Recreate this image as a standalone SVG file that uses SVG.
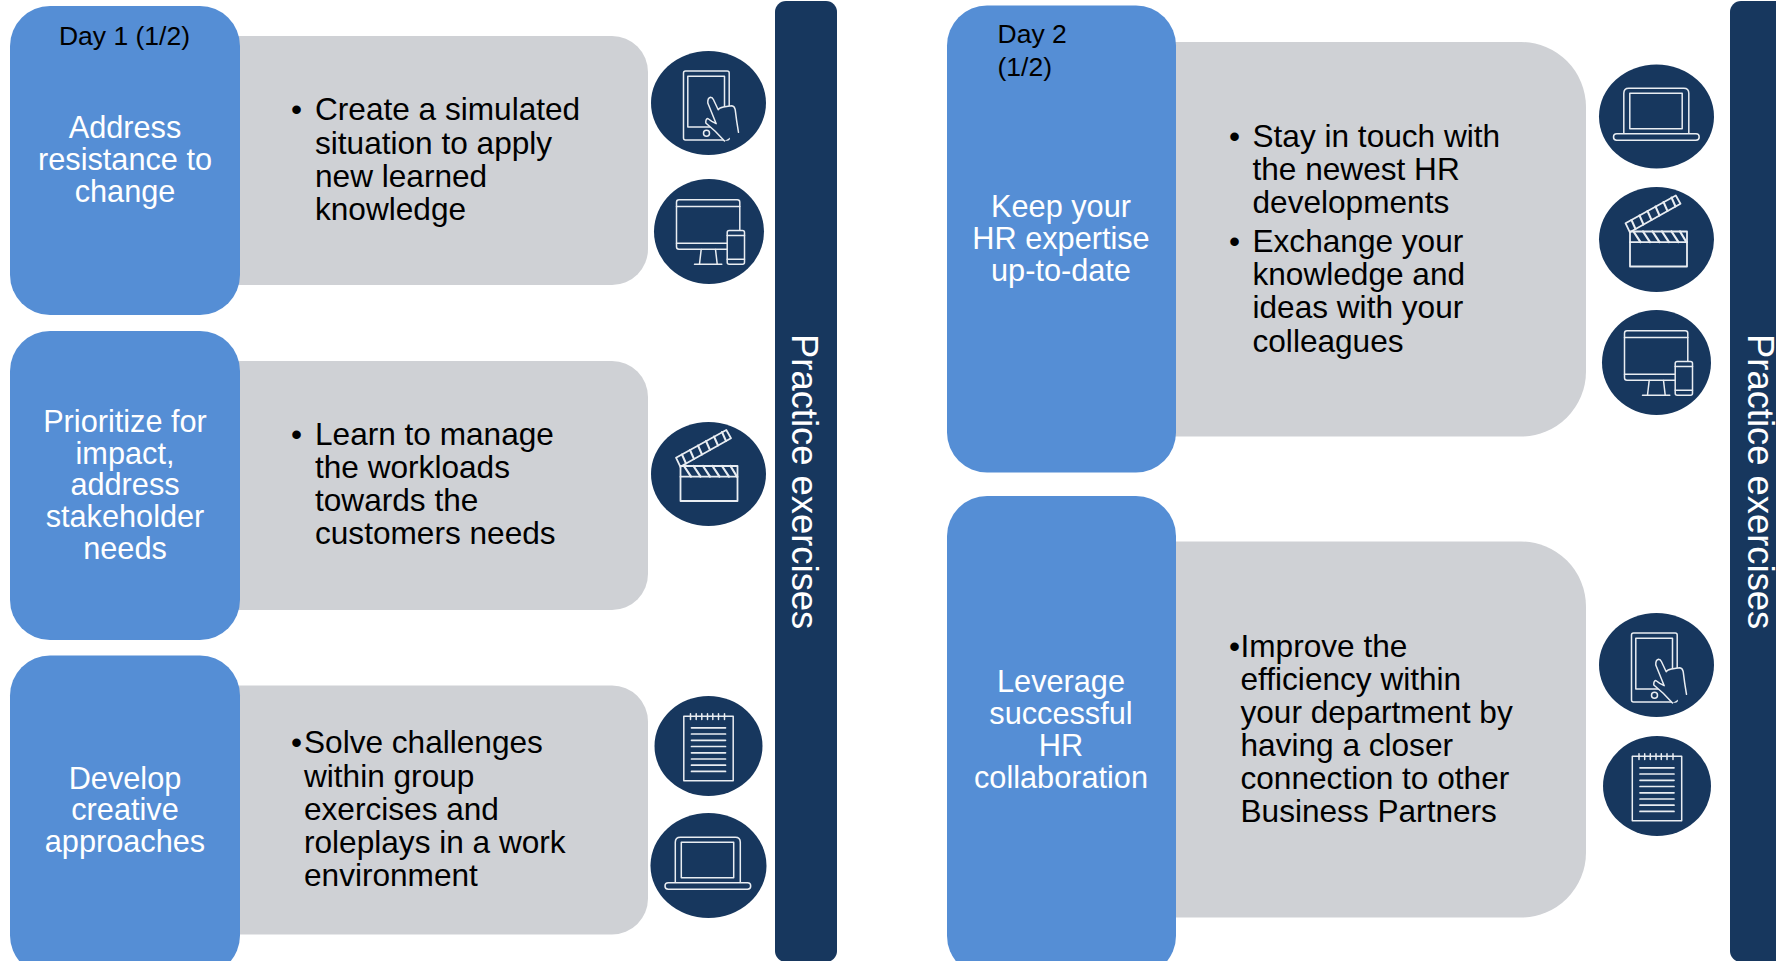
<svg xmlns="http://www.w3.org/2000/svg" width="1776" height="961" viewBox="0 0 1776 961">
<style>
text{font-family:"Liberation Sans",Arial,sans-serif}
.h{fill:#558ed5}.g{fill:#cfd1d5}.n{fill:#17375e}
.w{fill:#fff;font-size:30.7px;text-anchor:middle}
.d{fill:#000;font-size:26.5px}
.b{fill:#000;font-size:31.6px}
.p{fill:#fff;font-size:36.4px}
.i{fill:none;stroke:#e9edf2;stroke-width:1.5;stroke-linejoin:round;stroke-linecap:round}
</style>
<defs>
<g id="tablet" class="i">
<rect x="-25" y="-32" width="45.7" height="69" rx="2"/>
<rect x="-20.7" y="-26.7" width="36.7" height="50.7"/>
<circle cx="-2" cy="30.3" r="3"/>
<path fill="#17375e" d="M16 38L6.7 28.3L-2.7 20Q-3 16-.7 15.500L3.300 18.300L7.700 20.700L-.7 0Q-1-5 2-5.700Q4-5.500 5-3.300L9.700 6.700Q10.500 5 15 4Q20 3 23.300 2.700Q26 3 26.700 6.700Q28 18 30 29.300"/>
</g>
<g id="monitor" class="i">
<rect x="-32" y="-31.700" width="63.300" height="49.400" rx="2.500"/>
<path d="M-32-25H31.300M-32 11.700H31.300M-7.300 18L-9 32.500M7 18L8.700 32.500M-14 32.700H13.300"/>
<rect x="18.700" y="-1" width="17.300" height="33.700" rx="2" fill="#17375e"/>
<path d="M18.700 4H36M18.700 27.700H36"/>
</g>
<g id="clapper" class="i" stroke-width="1.800">
<rect x="-26.500" y="-8" width="57" height="35" stroke-width="1.800"/>
<path stroke-width="1.800" d="M-26.500 2.700H30.500"/>
<path stroke-width="2.200" d="M-23-8L-16 2.700M-13.500-8L-6.500 2.700M-4-8L3 2.700M5.500-8L12.500 2.700M15-8L22 2.700M23.500-8L30 2.700"/>
<path stroke-width="1.800" d="M-31-16.300L19.300-44L24-35.700L-26.700-7.300Z"/>
<path stroke-width="2" d="M-25-19.500L-21-10.500M-17-24L-13-15M-9-28.500L-5-19.500M-1-33L3-24M7-37.500L11-28.500M15-42L19-33"/>
</g>
<g id="notepad" class="i">
<path d="M-18-29.700H-24.700V34.700H24.700V-29.700H16M-18-29.700H16"/>
<path d="M-18-32.200V-26.500M-12.300-32.200V-26.500M-6.700-32.200V-26.500M-1-32.200V-26.500M4.300-32.200V-26.500M10-32.200V-26.500M16-32.200V-26.500"/>
<path stroke-width="1.700" d="M-17-18.200H17M-17-12H17M-17-5.700H17M-17 .5H17M-17 6.800H17M-17 13H17M-17 19.200H17M-17 25.400H17"/>
</g>
<g id="laptop" class="i">
<path d="M-32.700 16.700V-23.300Q-32.700-28.300-27.700-28.300H27.300Q32.300-28.300 32.300-23.300V16.700"/>
<rect x="-26.700" y="-23.300" width="52.400" height="35.600"/>
<rect x="-43" y="17.300" width="85.700" height="6.400" rx="3.200"/>
</g>
</defs>

<g id="connectors"></g>

<g id="day1-1">
<rect class="g" x="200" y="36" width="448" height="249" rx="36"/>
<rect class="h" x="10" y="6" width="230" height="309" rx="40"/>
<text class="d" x="124.500" y="45" text-anchor="middle">Day 1 (1/2)</text>
<text class="w" x="125" y="138">Address</text>
<text class="w" x="125" y="170">resistance to</text>
<text class="w" x="125" y="201.500">change</text>
<g class="b"><text x="291" y="120">•</text><text x="315" y="120">Create a simulated</text><text x="315" y="153.500">situation to apply</text><text x="315" y="186.500">new learned</text><text x="315" y="219.500">knowledge</text></g>
</g>
<g id="day1-2">
<rect class="g" x="200" y="361" width="448" height="249" rx="36"/>
<rect class="h" x="10" y="331" width="230" height="309" rx="40"/>
<text class="w" x="125" y="432">Prioritize for</text>
<text class="w" x="125" y="463.500">impact,</text>
<text class="w" x="125" y="495">address</text>
<text class="w" x="125" y="527">stakeholder</text>
<text class="w" x="125" y="559">needs</text>
<g class="b"><text x="291" y="445">•</text><text x="315" y="445">Learn to manage</text><text x="315" y="478">the workloads</text><text x="315" y="511">towards the</text><text x="315" y="544">customers needs</text></g>
</g>
<g id="day1-3">
<rect class="g" x="200" y="685.500" width="448" height="249" rx="36"/>
<rect class="h" x="10" y="655.500" width="230" height="320" rx="40"/>
<text class="w" x="125" y="788.500">Develop</text>
<text class="w" x="125" y="820">creative</text>
<text class="w" x="125" y="851.500">approaches</text>
<g class="b"><text x="291" y="753">•</text><text x="304" y="753">Solve challenges</text><text x="304" y="787">within group</text><text x="304" y="820">exercises and</text><text x="304" y="853">roleplays in a work</text><text x="304" y="886">environment</text></g>
</g>
<g id="bar-1">
<rect class="n" x="775" y="1" width="62" height="961" rx="11"/>
<text class="p" transform="translate(792 334) rotate(90)">Practice exercises</text>
</g>
<g id="icon-tablet-1"><ellipse class="n" cx="708.500" cy="103" rx="57.500" ry="52"/><use href="#tablet" x="708.500" y="103"/></g>
<g id="icon-monitor-1"><ellipse class="n" cx="709" cy="231.500" rx="55" ry="52.500"/><use href="#monitor" x="708.500" y="231.500"/></g>
<g id="icon-clapper-1"><ellipse class="n" cx="708.500" cy="474" rx="57.500" ry="52"/><use href="#clapper" x="707" y="474"/></g>
<g id="icon-notepad-1"><ellipse class="n" cx="708.500" cy="746" rx="54" ry="50"/><use href="#notepad" x="708.500" y="746"/></g>
<g id="icon-laptop-1"><ellipse class="n" cx="708.500" cy="865.500" rx="58" ry="52.500"/><use href="#laptop" x="708" y="865.500"/></g>

<g id="day2-1">
<rect class="g" x="1100" y="42" width="486" height="394.500" rx="65"/>
<rect class="h" x="947" y="5.500" width="229" height="467" rx="40"/>
<text class="d" x="997.500" y="43">Day 2</text>
<text class="d" x="997.500" y="76">(1/2)</text>
<text class="w" x="1061" y="217">Keep your</text>
<text class="w" x="1061" y="248.500">HR expertise</text>
<text class="w" x="1061" y="281">up-to-date</text>
<g class="b"><text x="1229" y="147">•</text><text x="1252.500" y="147">Stay in touch with</text><text x="1252.500" y="180">the newest HR</text><text x="1252.500" y="213">developments</text><text x="1229" y="251.500">•</text><text x="1252.500" y="251.500">Exchange your</text><text x="1252.500" y="285">knowledge and</text><text x="1252.500" y="318">ideas with your</text><text x="1252.500" y="352">colleagues</text></g>
</g>
<g id="day2-2">
<rect class="g" x="1100" y="541.500" width="486" height="376" rx="65"/>
<rect class="h" x="947" y="496" width="229" height="480" rx="40"/>
<text class="w" x="1061" y="692">Leverage</text>
<text class="w" x="1061" y="723.500">successful</text>
<text class="w" x="1061" y="755.500">HR</text>
<text class="w" x="1061" y="788">collaboration</text>
<g class="b"><text x="1229" y="657">•</text><text x="1240.500" y="657">Improve the</text><text x="1240.500" y="690">efficiency within</text><text x="1240.500" y="723">your department by</text><text x="1240.500" y="756">having a closer</text><text x="1240.500" y="789">connection to other</text><text x="1240.500" y="822">Business Partners</text></g>
</g>
<g id="bar-2">
<rect class="n" x="1730" y="1" width="80" height="961" rx="11"/>
<text class="p" transform="translate(1748 334) rotate(90)">Practice exercises</text>
</g>
<g id="icon-laptop-2"><ellipse class="n" cx="1656.500" cy="116.500" rx="57.500" ry="52"/><use href="#laptop" x="1656.500" y="116.500"/></g>
<g id="icon-clapper-2"><ellipse class="n" cx="1656.500" cy="239.500" rx="57.500" ry="52.500"/><use href="#clapper" x="1656.500" y="239.500"/></g>
<g id="icon-monitor-2"><ellipse class="n" cx="1656.500" cy="362.500" rx="54.500" ry="52.500"/><use href="#monitor" x="1656.500" y="362.500"/></g>
<g id="icon-tablet-2"><ellipse class="n" cx="1656.500" cy="665" rx="57.500" ry="52"/><use href="#tablet" x="1656.500" y="665"/></g>
<g id="icon-notepad-2"><ellipse class="n" cx="1657" cy="786" rx="54" ry="50"/><use href="#notepad" x="1657" y="786"/></g>
</svg>
